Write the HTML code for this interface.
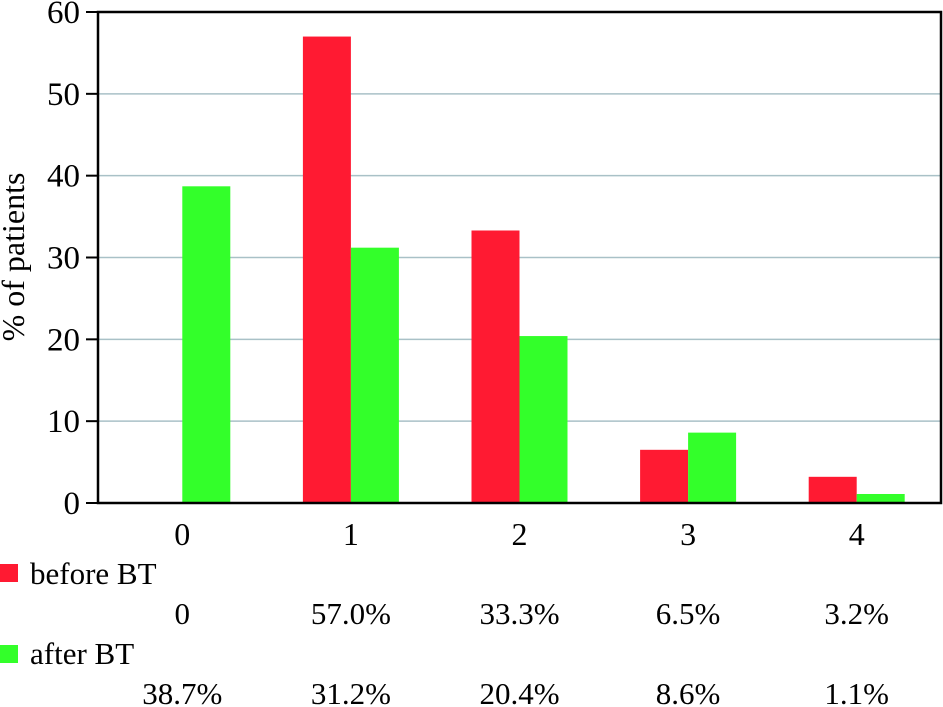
<!DOCTYPE html>
<html><head><meta charset="utf-8"><style>
html,body{margin:0;padding:0;background:#fff;}
svg{display:block;}
svg text{font-family:"Liberation Serif","DejaVu Serif",serif;}
</style></head><body>
<svg id="chart" width="943" height="707" font-family="Liberation Serif, serif">
<g id="grid"></g><g id="bars"></g><g id="axes"></g><g id="labels"></g>
</svg>
<script>
const categories = ["0","1","2","3","4"];
const beforeValues = [0, 57.0, 33.3, 6.5, 3.2];
const afterValues = [38.7, 31.2, 20.4, 8.6, 1.1];
const beforeLabels = ["0","57.0%","33.3%","6.5%","3.2%"];
const afterLabels = ["38.7%","31.2%","20.4%","8.6%","1.1%"];
const yTicks = [0,10,20,30,40,50,60];

const NS="http://www.w3.org/2000/svg";
const L=98,R=941,T=12,B=503,yMax=60;
const y=v=>B-(v/yMax)*(B-T);
const bandW=(R-L)/categories.length;
const xc=i=>L+bandW*(i+0.5);
const bw=48;
const FF='Liberation Serif, serif';
function mk(tag,attrs,parent,text){const e=document.createElementNS(NS,tag);for(const k in attrs)e.setAttribute(k,attrs[k]);if(tag==='text')e.setAttribute('font-family',FF);if(text!==undefined)e.textContent=text;parent.appendChild(e);return e;}
const grid=document.getElementById('grid'),bars=document.getElementById('bars'),axes=document.getElementById('axes'),labels=document.getElementById('labels');

yTicks.forEach(t=>{
  if(t>0&&t<yMax){const g=mk('line',{x1:L,x2:R,y1:y(t),y2:y(t),stroke:'#a9c1c7','stroke-width':1.5},grid);
  
  }
  const tk=mk('line',{x1:86,x2:L,y1:y(t),y2:y(t),stroke:'#000','stroke-width':2},axes);
  
  
  const lb=mk('text',{x:80,y:y(t)+11,'text-anchor':'end','font-size':33},labels,String(t));
  
  
});

categories.forEach((c,i)=>{
  const rb=mk('rect',{x:xc(i)-bw,y:y(beforeValues[i]),width:bw,height:B-y(beforeValues[i]),fill:'#ff1a32'},bars);
  
  
  const gb=mk('rect',{x:xc(i),y:y(afterValues[i]),width:bw,height:B-y(afterValues[i]),fill:'#33ff2a'},bars);
  
  
  const xl=mk('text',{x:xc(i),y:545,'text-anchor':'middle','font-size':32},labels,c);
  
  
  const v1=mk('text',{x:xc(i),y:624,'text-anchor':'middle','font-size':31},labels,beforeLabels[i]);
  
  
  const v2=mk('text',{x:xc(i),y:704,'text-anchor':'middle','font-size':31},labels,afterLabels[i]);
  
  
});

const frame=mk('rect',{x:L,y:T,width:R-L,height:B-T,fill:'none',stroke:'#000','stroke-width':2.5},axes);



const yt=mk('text',{x:0,y:0,transform:'translate(24,257) rotate(-90)','text-anchor':'middle','font-size':32},labels,'% of patients');


const s1=mk('rect',{x:0,y:564,width:18,height:18,fill:'#ff1a32'},labels);


const t1=mk('text',{x:30,y:584,'font-size':31},labels,'before BT');


const s2=mk('rect',{x:0,y:645,width:18,height:18,fill:'#33ff2a'},labels);


const t2=mk('text',{x:30,y:664,'font-size':31},labels,'after BT');


</script>
</body></html>
